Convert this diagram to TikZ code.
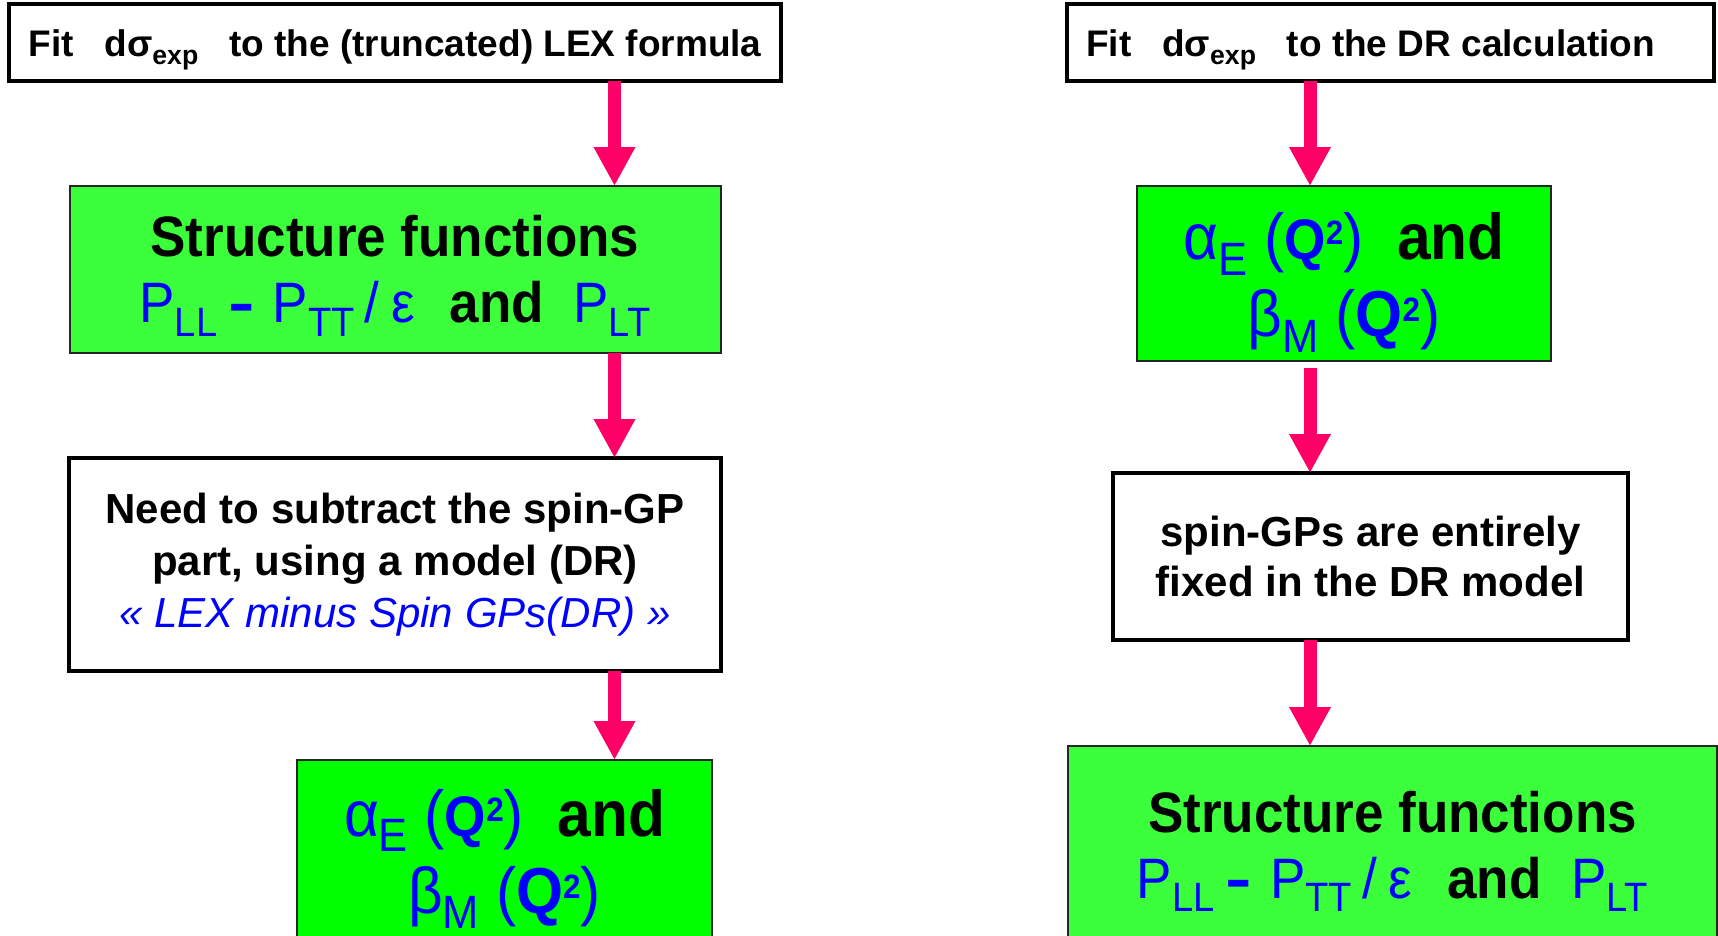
\documentclass[tikz,border=0pt]{standalone}
\usepackage{fontspec}
\setmainfont{Liberation Sans}
\newfontfamily\narrowsans{Liberation Sans}[FakeStretch=0.93]
\usepackage{graphicx}
\usepackage{tikz}
\usetikzlibrary{arrows.meta,positioning}
\definecolor{arrowpink}{HTML}{FF0066}
\definecolor{sfgreen}{HTML}{3CFF3C}
\definecolor{abgreen}{HTML}{00FF00}
\definecolor{textblue}{HTML}{0000FF}
\newcommand\lowsub[1]{\raisebox{-0.24em}{\scalebox{0.72}{#1}}}
\newcommand\highsup[1]{\raisebox{0.23em}{\scalebox{0.52}{#1}}}
\newcommand\sfline{{\color{textblue}P\lowsub{LL}\kern11pt\scalebox{1.5}[1]{\textbf{-}}\kern18pt
  P\lowsub{TT}\kern10pt/\kern-3pt\ ε}\kern35pt\textbf{and}\ \ {\color{textblue}P\lowsub{LT}}}
\newcommand\aline{\rule{0pt}{65pt}{\color{textblue}α\lowsub{E} (\scalebox{0.88}{\bfseries Q}%
  \highsup{\bfseries 2})}\ \ \textbf{and}}
\newcommand\bline{{\color{textblue}β\lowsub{M} (\textbf{Q}\highsup{\bfseries 2})}}

\begin{document}
\begin{tikzpicture}[x=1pt,y=-1pt,
    whitebox/.style={draw=black,line width=3.5pt,fill=white,align=center,outer sep=0pt},
    fitbox/.style={whitebox,minimum height=77pt,text height=27pt,text depth=0pt,
      font=\fontsize{37}{40}\bfseries},
    sfbox/.style={draw=black!85,line width=2pt,fill=sfgreen,align=center,outer sep=0pt,
      font=\narrowsans\fontsize{57}{66}\selectfont},
    abbox/.style={draw=black!85,line width=2pt,fill=abgreen,align=center,outer sep=0pt,
      font=\narrowsans\fontsize{65}{77}\selectfont},
    pinkarrow/.style={draw=arrowpink,line width=13pt,-{Triangle[width=39pt,length=39pt]}}]
    \useasboundingbox (0,0) rectangle (1718,935);
    % left column: LEX fit
    \node[fitbox,minimum width=772pt] (fitL) at (395,42.5) {%
      Fit\ \ \ dσ\lowsub{exp}\ \ \ to the (truncated) LEX formula};
    \node[sfbox,minimum width=651pt,minimum height=167pt,below=105pt of fitL] (sfL) {%
      \rule{0pt}{54pt}\textbf{Structure functions}\\\sfline};
    \node[whitebox,minimum width=652pt,minimum height=213pt,below=105pt of sfL,
      font=\fontsize{42}{52}\selectfont] (subL) {%
      \textbf{Need to subtract the spin-GP}\\\textbf{part, using a model (DR)}\\
      {\color{textblue}\itshape « LEX minus Spin GPs(DR) »}};
    \node[abbox,minimum width=415pt,inner ysep=11pt,anchor=north] (abL) at (504.5,760) {%
      \aline\\\bline};
    % right column: DR fit
    \node[fitbox,minimum width=647pt] (fitR) at (1390.5,42.5) {%
      Fit\ \ \ dσ\lowsub{exp}\ \ \ to the DR calculation\hspace*{40pt}};
    \node[abbox,minimum width=414pt,minimum height=175pt] (abR) at (1344,273.5) {%
      \aline\\\bline};
    \node[whitebox,minimum width=515pt,minimum height=167pt,
      font=\fontsize{42}{50}\bfseries] (spinR) at (1370.5,556.5) {%
      spin-GPs are entirely\\fixed in the DR model};
    \node[sfbox,minimum width=649pt,inner ysep=32pt,anchor=north] (sfR) at (1392.5,746) {%
      \rule{0pt}{54pt}\textbf{Structure functions}\\\sfline};
    % arrows
    \coordinate (axL) at (614.5,0);
    \coordinate (axR) at (1310,0);
    \draw[pinkarrow] (fitL.south -| axL) -- (sfL.north -| axL);
    \draw[pinkarrow] (sfL.south -| axL) -- (subL.north -| axL);
    \draw[pinkarrow] (subL.south -| axL) -- (abL.north -| axL);
    \draw[pinkarrow] (fitR.south -| axR) -- (abR.north -| axR);
    \draw[pinkarrow,shorten <=7pt] (abR.south -| axR) -- (spinR.north -| axR);
    \draw[pinkarrow] (spinR.south -| axR) -- (sfR.north -| axR);
\end{tikzpicture}
\end{document}
